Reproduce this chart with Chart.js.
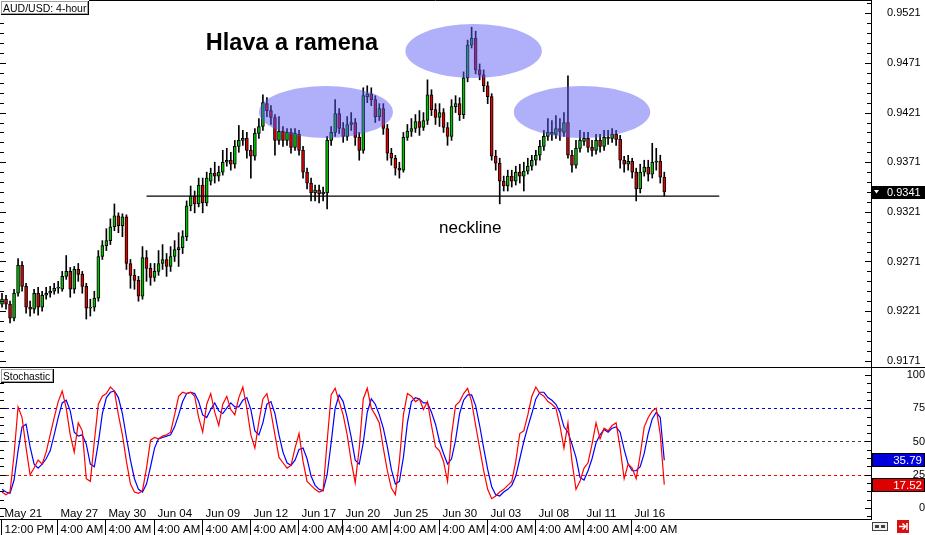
<!DOCTYPE html>
<html><head><meta charset="utf-8">
<script src="https://cdn.jsdelivr.net/npm/chart.js@4.4.0/dist/chart.umd.min.js"></script>
<style>
html,body{margin:0;padding:0;background:#fff;overflow:hidden}
#wrap{position:relative;width:925px;height:535px;background:#fff}
canvas{position:absolute;left:0}
#main{top:0}
#stoch{top:368px}
</style></head><body>
<div id="wrap">
<canvas id="main" width="925" height="368"></canvas>
<canvas id="stoch" width="925" height="167"></canvas>
</div>
<script>
// ---------- DATA ----------
const symbolLabel = 'AUD/USD: 4-hour';
const stochLabel = 'Stochastic';
const titleText = 'Hlava a ramena';
const necklineText = 'neckline';

const opens = [0.9228,0.9233,0.9228,0.9214,0.9239,0.9267,0.9246,0.9225,0.9223,0.9239,
0.9225,0.9237,0.9239,0.9241,0.9244,0.9243,0.9256,0.9261,0.9243,0.9263,
0.9258,0.9246,0.9224,0.9225,0.9234,0.9276,0.9287,0.9292,0.9306,0.9317,
0.9307,0.9316,0.9269,0.9257,0.9252,0.9236,0.9275,0.9264,0.9255,0.9261,
0.9269,0.9273,0.9266,0.9276,0.9283,0.9285,0.9296,0.9327,0.9337,0.9329,
0.9348,0.9330,0.9352,0.9360,0.9357,0.9361,0.9371,0.9373,0.9369,0.9387,
0.9393,0.9395,0.9383,0.9377,0.9400,0.9407,0.9430,0.9423,0.9416,0.9393,
0.9402,0.9393,0.9401,0.9386,0.9399,0.9383,0.9361,0.9350,0.9340,0.9343,
0.9339,0.9340,0.9393,0.9401,0.9420,0.9405,0.9397,0.9409,0.9411,0.9396,
0.9383,0.9437,0.9440,0.9434,0.9417,0.9425,0.9405,0.9380,0.9375,0.9365,
0.9363,0.9396,0.9402,0.9405,0.9412,0.9406,0.9413,0.9439,0.9424,0.9416,
0.9421,0.9406,0.9397,0.9427,0.9430,0.9419,0.9456,0.9489,0.9496,0.9464,
0.9459,0.9448,0.9437,0.9377,0.9370,0.9352,0.9347,0.9357,0.9352,0.9361,
0.9357,0.9362,0.9367,0.9373,0.9378,0.9387,0.9397,0.9401,0.9399,0.9405,
0.9401,0.9411,0.9378,0.9368,0.9385,0.9392,0.9395,0.9386,0.9383,0.9393,
0.9387,0.9396,0.9395,0.9399,0.9394,0.9373,0.9369,0.9372,0.9361,0.9344,
0.9361,0.9366,0.9359,0.9371,0.9372,0.9356];

const highs = [0.9239,0.9237,0.9231,0.9243,0.9274,0.9271,0.9249,0.9231,0.9243,0.9245,
0.9241,0.9245,0.9246,0.9249,0.9251,0.9261,0.9277,0.9265,0.9266,0.9269,
0.9261,0.9249,0.9233,0.9241,0.9282,0.9292,0.9304,0.9314,0.9329,0.9320,
0.9319,0.9318,0.9273,0.9263,0.9256,0.9286,0.9282,0.9269,0.9269,0.9282,
0.9288,0.9279,0.9286,0.9292,0.9300,0.9302,0.9332,0.9347,0.9342,0.9355,
0.9355,0.9361,0.9365,0.9371,0.9367,0.9383,0.9385,0.9381,0.9393,0.9408,
0.9403,0.9401,0.9388,0.9405,0.9415,0.9439,0.9436,0.9428,0.9419,0.9417,
0.9407,0.9405,0.9405,0.9405,0.9403,0.9387,0.9365,0.9355,0.9348,0.9348,
0.9346,0.9397,0.9407,0.9434,0.9425,0.9411,0.9417,0.9421,0.9415,0.9401,
0.9446,0.9448,0.9446,0.9438,0.9430,0.9430,0.9409,0.9385,0.9378,0.9371,
0.9401,0.9409,0.9415,0.9419,0.9423,0.9421,0.9454,0.9444,0.9430,0.9430,
0.9425,0.9411,0.9434,0.9438,0.9436,0.9462,0.9494,0.9507,0.9503,0.9470,
0.9464,0.9452,0.9440,0.9383,0.9375,0.9357,0.9363,0.9363,0.9367,0.9369,
0.9371,0.9375,0.9378,0.9383,0.9393,0.9403,0.9415,0.9413,0.9418,0.9415,
0.9421,0.9458,0.9383,0.9393,0.9403,0.9401,0.9401,0.9393,0.9399,0.9399,
0.9403,0.9403,0.9405,0.9403,0.9398,0.9377,0.9378,0.9375,0.9365,0.9369,
0.9373,0.9373,0.9390,0.9385,0.9378,0.9361];

const lows = [0.9225,0.9223,0.9209,0.9211,0.9236,0.9241,0.9219,0.9216,0.9219,0.9217,
0.9221,0.9233,0.9235,0.9238,0.9239,0.9241,0.9253,0.9235,0.9239,0.9251,
0.9239,0.9213,0.9216,0.9221,0.9231,0.9273,0.9282,0.9288,0.9302,0.9300,
0.9296,0.9263,0.9244,0.9243,0.9231,0.9233,0.9251,0.9247,0.9251,0.9257,
0.9263,0.9256,0.9261,0.9271,0.9266,0.9279,0.9292,0.9322,0.9320,0.9326,
0.9320,0.9327,0.9348,0.9350,0.9352,0.9358,0.9367,0.9363,0.9365,0.9381,
0.9388,0.9375,0.9355,0.9373,0.9395,0.9403,0.9417,0.9409,0.9378,0.9389,
0.9387,0.9388,0.9380,0.9383,0.9378,0.9355,0.9344,0.9332,0.9332,0.9330,
0.9332,0.9324,0.9388,0.9397,0.9400,0.9391,0.9393,0.9403,0.9388,0.9373,
0.9380,0.9431,0.9428,0.9411,0.9413,0.9399,0.9373,0.9368,0.9358,0.9355,
0.9361,0.9393,0.9397,0.9401,0.9398,0.9403,0.9409,0.9418,0.9409,0.9407,
0.9401,0.9388,0.9393,0.9421,0.9413,0.9415,0.9452,0.9486,0.9460,0.9454,
0.9442,0.9430,0.9373,0.9363,0.9329,0.9342,0.9342,0.9346,0.9348,0.9350,
0.9342,0.9359,0.9363,0.9368,0.9373,0.9383,0.9393,0.9393,0.9395,0.9393,
0.9397,0.9375,0.9361,0.9365,0.9381,0.9388,0.9381,0.9377,0.9379,0.9381,
0.9383,0.9389,0.9391,0.9388,0.9365,0.9361,0.9363,0.9355,0.9332,0.9340,
0.9357,0.9352,0.9355,0.9363,0.9350,0.9337];

const closes = [0.9233,0.9228,0.9214,0.9239,0.9267,0.9246,0.9225,0.9223,0.9239,0.9225,
0.9237,0.9239,0.9241,0.9244,0.9245,0.9256,0.9261,0.9243,0.9263,0.9258,
0.9246,0.9224,0.9225,0.9234,0.9276,0.9287,0.9292,0.9306,0.9317,0.9307,
0.9316,0.9269,0.9257,0.9252,0.9236,0.9275,0.9264,0.9255,0.9261,0.9269,
0.9273,0.9266,0.9276,0.9283,0.9285,0.9296,0.9327,0.9337,0.9329,0.9348,
0.9330,0.9355,0.9360,0.9357,0.9361,0.9371,0.9373,0.9369,0.9387,0.9393,
0.9395,0.9383,0.9377,0.9400,0.9407,0.9431,0.9423,0.9416,0.9393,0.9402,
0.9393,0.9401,0.9386,0.9400,0.9383,0.9361,0.9350,0.9340,0.9343,0.9339,
0.9341,0.9393,0.9401,0.9420,0.9405,0.9397,0.9409,0.9411,0.9396,0.9383,
0.9438,0.9440,0.9434,0.9417,0.9425,0.9405,0.9380,0.9375,0.9365,0.9363,
0.9396,0.9402,0.9405,0.9412,0.9406,0.9413,0.9439,0.9424,0.9416,0.9421,
0.9406,0.9397,0.9427,0.9430,0.9419,0.9456,0.9489,0.9496,0.9464,0.9459,
0.9448,0.9437,0.9377,0.9370,0.9352,0.9347,0.9357,0.9352,0.9361,0.9357,
0.9362,0.9367,0.9373,0.9378,0.9387,0.9397,0.9401,0.9399,0.9405,0.9402,
0.9411,0.9378,0.9368,0.9385,0.9393,0.9395,0.9386,0.9383,0.9393,0.9387,
0.9396,0.9395,0.9399,0.9394,0.9373,0.9369,0.9372,0.9361,0.9344,0.9361,
0.9366,0.9359,0.9371,0.9372,0.9356,0.9341];

// Stochastic: main (blue) and signal (red)
const stochMain = [14,12,11,21,43,61,63,46,33,30, 33,37,43,55,68,79,81,73,57,54,
55,48,33,31,49,71,83,87,88,83, 71,53,36,22,14,12,18,31,45,52,
53,54,55,61,70,80,86,87,86,80, 70,68,74,79,73,71,75,79,76,76,
81,83,74,58,55,64,78,80,71,55, 42,34,32,36,44,45,37,24,17,14,
13,25,49,75,85,80,68,53,36,33, 49,72,82,78,70,60,46,29,18,20,
38,64,80,83,82,79,79,72,63,50, 41,33,37,51,71,81,85,85,77,62,
45,29,16,10,9,12,14,17,24,37, 50,61,71,82,87,87,83,81,78,72,
61,57,48,38,23,21,28,37,49,55, 59,57,60,61,57,44,33,28,28,31,
41,56,67,72,68,35.79];
const stochSignal = [12,10,12,40,76,68,45,25,30,36, 33,42,55,68,80,88,75,55,42,64,
58,22,20,50,78,84,86,91,88,70, 55,35,18,12,11,13,30,51,53,52,
54,55,57,70,84,87,86,87,84,68, 57,78,86,72,62,78,84,74,70,83,
91,75,55,45,65,82,86,72,55,38, 34,30,32,45,56,35,20,17,14,12,
13,50,85,90,80,70,55,35,19,45, 82,90,75,70,64,45,28,15,10,35,
70,86,84,80,82,74,80,62,46,43, 35,20,55,77,80,86,90,80,62,45,
28,14,7,9,12,14,17,20,35,56, 58,70,84,91,86,84,80,78,75,62,
45,64,35,14,20,30,34,48,64,52, 60,58,62,64,45,22,33,30,22,40,
61,68,73,75,55,17.52];

const priceTicks = [0.9171,0.9221,0.9271,0.9321,0.9371,0.9421,0.9471,0.9521];
const stochTicks = [0,25,50,75,100];
const stochLevels = [75,50,25];
const stochLevelColors = ['#0000ff','#404040','#ff0000'];

const dateLabels = ['May 21','May 27','May 30','Jun 04','Jun 09','Jun 12','Jun 17','Jun 20','Jun 25','Jun 30','Jul 03','Jul 08','Jul 11','Jul 16'];
const timeLabels = ['12:00 PM','4:00 AM','4:00 AM','4:00 AM','4:00 AM','4:00 AM','4:00 AM','4:00 AM','4:00 AM','4:00 AM','4:00 AM','4:00 AM','4:00 AM','4:00 AM'];
const labelBars = [0,14,26,38,50,62,74,85,97,109,121,133,145,157];
const totalSlots = 217;

// pattern annotations (in bar index / price units)
const shoulderEllipses = [
  {bar:80.7, price:0.94216, halfBars:16.7, halfPrice:0.00262},
  {bar:117.5, price:0.94830, halfBars:17.0, halfPrice:0.00272},
  {bar:144.5, price:0.94216, halfBars:17.0, halfPrice:0.00262}
];
const neckline = {price:0.93369, fromBar:36, toBar:178.7};
const titleAnchor = {bar:50.75, price:0.94840};
const necklineAnchor = {bar:108.9, price:0.93000};

// ---------- CHART ----------
const slots = Array.from({length: totalSlots}, (_, i) => String(i));
const FONT = '"Liberation Sans", Arial, sans-serif';
const GREEN = '#00c000', RED = '#e00000';

function hLine(ctx, x1, x2, y){ ctx.beginPath(); ctx.moveTo(x1, y); ctx.lineTo(x2, y); ctx.stroke(); }
function vLine(ctx, x, y1, y2){ ctx.beginPath(); ctx.moveTo(x, y1); ctx.lineTo(x, y2); ctx.stroke(); }
function fitAxis(s){ s.width = 54; s.paddingTop = 0; s.paddingBottom = 0; }

const mainDecor = {
  id: 'mainDecor',
  afterDatasetsDraw(chart){
    const {ctx, chartArea: a, scales: {x, y}} = chart;
    ctx.save();
    ctx.beginPath(); ctx.rect(a.left, a.top, a.right - a.left, a.bottom - a.top); ctx.clip();
    ctx.fillStyle = 'rgba(90,90,245,0.48)';
    for (const e of shoulderEllipses){
      const cx = x.getPixelForValue(e.bar), cy = y.getPixelForValue(e.price);
      const rx = Math.abs(x.getPixelForValue(e.bar + e.halfBars) - cx);
      const ry = Math.abs(y.getPixelForValue(e.price + e.halfPrice) - cy);
      ctx.beginPath(); ctx.ellipse(cx, cy, rx, ry, 0, 0, Math.PI * 2); ctx.fill();
    }
    ctx.strokeStyle = '#000'; ctx.lineWidth = 1.3;
    const ny = y.getPixelForValue(neckline.price);
    hLine(ctx, x.getPixelForValue(neckline.fromBar), x.getPixelForValue(neckline.toBar), ny);
    ctx.fillStyle = '#000'; ctx.textAlign = 'left'; ctx.textBaseline = 'alphabetic';
    ctx.font = 'bold 23.5px ' + FONT;
    ctx.fillText(titleText, x.getPixelForValue(titleAnchor.bar), y.getPixelForValue(titleAnchor.price));
    ctx.font = '17px ' + FONT;
    ctx.fillText(necklineText, x.getPixelForValue(necklineAnchor.bar), y.getPixelForValue(necklineAnchor.price));
    ctx.restore();
  },
  afterDraw(chart){
    const {ctx, chartArea: a, scales: {y}} = chart;
    ctx.save();
    ctx.strokeStyle = '#000'; ctx.lineWidth = 1;
    vLine(ctx, a.right + 0.5, 0, chart.height);
    hLine(ctx, 0, a.right, 0.5);
    hLine(ctx, 0, chart.width, chart.height - 0.5);
    for (let k = -1; k <= 37; k++){
      const v = 0.9171 + k * 0.001;
      const py = Math.round(y.getPixelForValue(v)) + 0.5;
      if (py < 2 || py > a.bottom) continue;
      const len = (k % 5 === 0) ? 6 : 4;
      hLine(ctx, a.right - len, a.right, py);
      hLine(ctx, 0, len, py);
    }
    // last price box
    const last = closes[closes.length - 1];
    const py = y.getPixelForValue(last);
    ctx.fillStyle = '#000';
    ctx.fillRect(a.right + 1, Math.round(py) - 6, chart.width - a.right - 1, 13);
    ctx.fillStyle = '#fff';
    ctx.beginPath(); ctx.moveTo(a.right + 3, py - 2); ctx.lineTo(a.right + 8, py - 2); ctx.lineTo(a.right + 5.5, py + 1.5); ctx.closePath(); ctx.fill();
    ctx.font = '11px ' + FONT; ctx.textBaseline = 'middle'; ctx.textAlign = 'left';
    ctx.fillText(last.toFixed(4), a.right + 16, py + 0.5);
    // symbol label box
    ctx.fillStyle = '#fff'; ctx.fillRect(0, 0, 89, 15);
    ctx.strokeStyle = '#a0a0a0'; ctx.strokeRect(1.5, 1.5, 86, 12);
    ctx.strokeStyle = '#000'; vLine(ctx, 88.5, 1, 15); hLine(ctx, 1, 89, 14.5);
    ctx.fillStyle = '#000'; ctx.font = '10.5px ' + FONT; ctx.textBaseline = 'alphabetic';
    ctx.fillText(symbolLabel, 3, 11.5);
    ctx.restore();
  }
};

new Chart(document.getElementById('main'), {
  type: 'bar',
  data: {
    labels: slots,
    datasets: [
      {label: 'body', data: opens.map((o, i) => [o, closes[i]]),
       backgroundColor: closes.map((c, i) => c >= opens[i] ? GREEN : RED),
       borderColor: '#000', borderWidth: 1, borderSkipped: false, barThickness: 3, grouped: false, order: 0},
      {label: 'wick', data: lows.map((l, i) => [l, highs[i]]),
       backgroundColor: '#000', borderWidth: 0, barThickness: 1, grouped: false, order: 1}
    ]
  },
  options: {
    responsive: false, animation: false, devicePixelRatio: 1, events: [],
    layout: {autoPadding: false, padding: {top: 1, bottom: 1, left: 0, right: 0}},
    plugins: {legend: {display: false}, tooltip: {enabled: false}},
    scales: {
      x: {display: false, offset: true},
      y: {position: 'right', min: 0.91647, max: 0.95334,
          grid: {display: false, drawTicks: false}, border: {display: false},
          afterBuildTicks: s => { s.ticks = priceTicks.map(v => ({value: v})); },
          afterFit: fitAxis,
          ticks: {padding: 16, color: '#000', font: {family: FONT, size: 11}, callback: v => Number(v).toFixed(4)}}
    }
  },
  plugins: [mainDecor]
});

const stochDecor = {
  id: 'stochDecor',
  beforeDatasetsDraw(chart){
    const {ctx, chartArea: a, scales: {y}} = chart;
    ctx.save();
    ctx.lineWidth = 1; ctx.setLineDash([3, 3]);
    stochLevels.forEach((lv, i) => {
      ctx.strokeStyle = stochLevelColors[i];
      hLine(ctx, a.left, a.right, Math.round(y.getPixelForValue(lv)) + 0.5);
    });
    ctx.restore();
  },
  afterDraw(chart){
    const {ctx, chartArea: a, scales: {x, y}} = chart;
    ctx.save();
    ctx.strokeStyle = '#000'; ctx.lineWidth = 1;
    vLine(ctx, a.right + 0.5, 0, a.bottom + 1);
    hLine(ctx, 0, a.right + 1, a.bottom + 0.5);
    for (let k = -1; k <= 16; k++){
      const v = k * 6.25;
      const py = Math.round(y.getPixelForValue(v)) + 0.5;
      if (py < 2 || py > a.bottom) continue;
      const len = (k % 4 === 0) ? 6 : 4;
      hLine(ctx, a.right - len, a.right, py);
      hLine(ctx, 0, len, py);
    }
    // value boxes
    const boxes = [
      {v: stochMain[stochMain.length - 1], c: '#0000dd'},
      {v: stochSignal[stochSignal.length - 1], c: '#dd0000'}
    ];
    ctx.font = '11.5px ' + FONT; ctx.textBaseline = 'middle'; ctx.textAlign = 'right';
    for (const b of boxes){
      const py = Math.round(y.getPixelForValue(b.v));
      ctx.fillStyle = b.c; ctx.fillRect(a.right + 1, py - 7, chart.width - a.right - 1, 14);
      ctx.strokeStyle = '#000'; ctx.strokeRect(a.right + 1.5, py - 6.5, chart.width - a.right - 2, 13);
      ctx.fillStyle = '#fff'; ctx.fillText(b.v.toFixed(2), chart.width - 3, py + 0.5);
    }
    // label box
    ctx.fillStyle = '#fff'; ctx.fillRect(0, 0, 54, 15);
    ctx.strokeStyle = '#a0a0a0'; ctx.strokeRect(1.5, 1.5, 51, 12);
    ctx.strokeStyle = '#000'; vLine(ctx, 53.5, 1, 15); hLine(ctx, 1, 54, 14.5);
    ctx.fillStyle = '#000'; ctx.font = '10.2px ' + FONT; ctx.textAlign = 'left'; ctx.textBaseline = 'alphabetic';
    ctx.fillText(stochLabel, 3, 11.5);
    // time axis labels
    ctx.font = '11.5px ' + FONT;
    labelBars.forEach((b, k) => {
      const px = Math.round(x.getPixelForValue(b)) - 0.5;
      ctx.strokeStyle = '#000';
      vLine(ctx, px, a.bottom + 1, chart.height);
      ctx.fillStyle = '#000';
      ctx.fillText(dateLabels[k], px + 3, a.bottom - 2);
      ctx.fillText(timeLabels[k], px + 3, chart.height - 2);
    });
    // corner icons
    const iy = a.bottom + 3;
    ctx.fillStyle = '#f0f0f0'; ctx.fillRect(a.right + 1, iy, 16, 9);
    ctx.strokeStyle = '#404040'; ctx.strokeRect(a.right + 1.5, iy + 0.5, 15, 8);
    ctx.fillStyle = '#404040'; ctx.fillRect(a.right + 4, iy + 3, 4, 3); ctx.fillRect(a.right + 10, iy + 3, 4, 3);
    ctx.fillStyle = '#d81010'; ctx.fillRect(a.right + 26, a.bottom + 1, 12, 13);
    ctx.strokeStyle = '#fff'; ctx.lineWidth = 1.5;
    hLine(ctx, a.right + 28, a.right + 34, a.bottom + 7.5);
    ctx.beginPath(); ctx.moveTo(a.right + 31.5, a.bottom + 4.5); ctx.lineTo(a.right + 34.5, a.bottom + 7.5); ctx.lineTo(a.right + 31.5, a.bottom + 10.5); ctx.stroke();
    vLine(ctx, a.right + 36, a.bottom + 4, a.bottom + 11);
    ctx.restore();
  }
};

new Chart(document.getElementById('stoch'), {
  type: 'line',
  data: {
    labels: slots,
    datasets: [
      {label: 'signal', data: stochSignal, borderColor: '#ff0000', borderWidth: 1.2, pointRadius: 0, tension: 0, order: 0},
      {label: 'main', data: stochMain, borderColor: '#0000ff', borderWidth: 1.2, pointRadius: 0, tension: 0, order: 1}
    ]
  },
  options: {
    responsive: false, animation: false, devicePixelRatio: 1, events: [],
    layout: {autoPadding: false, padding: {top: 1, bottom: 16, left: 0, right: 0}},
    plugins: {legend: {display: false}, tooltip: {enabled: false}},
    scales: {
      x: {display: false, offset: true},
      y: {position: 'right', min: -8.3, max: 104.5,
          grid: {display: false, drawTicks: false}, border: {display: false},
          afterBuildTicks: s => { s.ticks = stochTicks.map(v => ({value: v})); },
          afterFit: fitAxis,
          ticks: {padding: 17.6, crossAlign: 'far', color: '#000', font: {family: FONT, size: 11}, callback: v => String(v)}}
    }
  },
  plugins: [stochDecor]
});
</script>
</body></html>
